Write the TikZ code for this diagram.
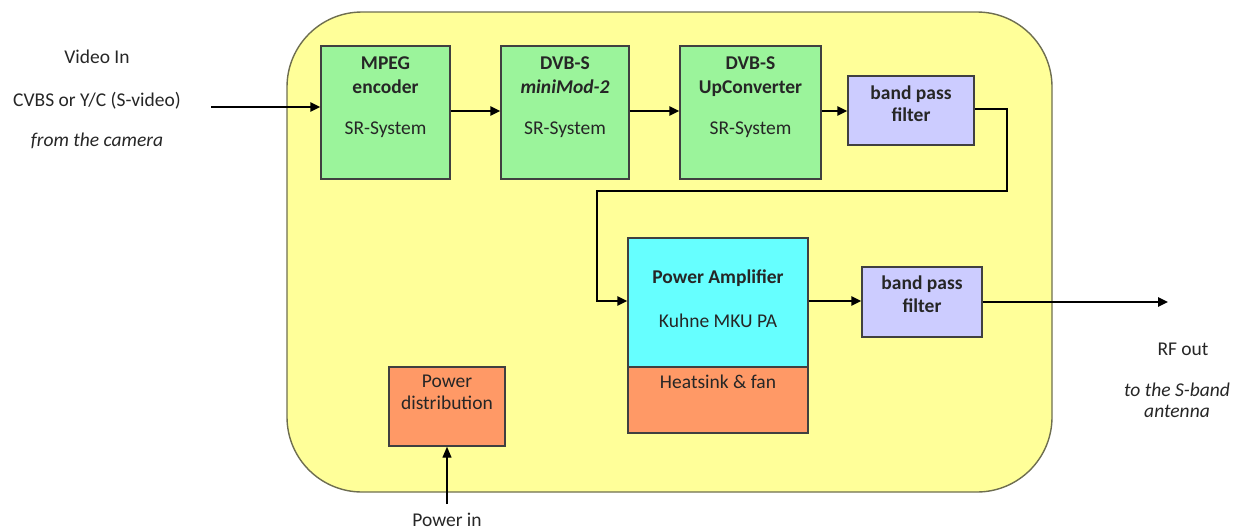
\documentclass[tikz,border=0pt]{standalone}
\usepackage{fontspec}
\setmainfont{Carlito}
\usetikzlibrary{arrows.meta}
\definecolor{panelfill}{HTML}{FFFF99}
\definecolor{panelline}{HTML}{6E6E50}
\definecolor{boxline}{HTML}{404040}
\definecolor{greenbox}{HTML}{9BF49B}
\definecolor{filterbox}{HTML}{CCCCFF}
\definecolor{ampbox}{HTML}{66FFFF}
\definecolor{heatbox}{HTML}{FF9966}
\definecolor{ink}{HTML}{262626}
\begin{document}
\begin{tikzpicture}[x=1pt,y=-1pt,
  font=\fontsize{19.5}{23}\selectfont,
  blk/.style={draw=boxline, line width=1.4pt, inner sep=0pt},
  txt/.style={text=ink, inner sep=0pt, text height=0.9em, text depth=0.26em, anchor=center},
  bold/.style={txt, font=\fontsize{19.5}{23}\selectfont\bfseries},
  link/.style={line width=2.4pt, -{Triangle[length=10pt,width=9pt]}, rounded corners=0pt},
  thin link/.style={line width=1.3pt, -{Triangle[length=11pt,width=9pt]}}]
\useasboundingbox (0,0) rectangle (1241,531);

% enclosure
\draw[fill=panelfill, draw=panelline, line width=1.4pt, rounded corners=75pt]
  (287,12) rectangle (1052,492);

% processing chain
\node[blk, fill=greenbox, minimum width=129pt, minimum height=133pt] (mpeg) at (385.5,112.5) {};
\node[blk, fill=greenbox, minimum width=128pt, minimum height=133pt] (mod) at (565,112.5) {};
\node[blk, fill=greenbox, minimum width=141pt, minimum height=133pt] (upc) at (750.5,112.5) {};
\node[blk, fill=filterbox, minimum width=126pt, minimum height=69pt] (bpfa) at (911,110.5) {};
\node[blk, fill=ampbox, minimum width=180pt, minimum height=129pt] (pa) at (718,302.5) {};
\node[blk, fill=heatbox, minimum width=180pt, minimum height=66pt] (heat) at (718,400) {};
\node[blk, fill=filterbox, minimum width=120pt, minimum height=70pt] (bpfb) at (922,302) {};
\node[blk, fill=heatbox, minimum width=116pt, minimum height=79pt] (pwr) at (447,406.5) {};

% box labels
\node[bold] (mpegA) at (385.5,66) {MPEG};
\node[bold] (mpegB) at (385.5,90) {encoder};
\node[txt]  (mpegC) at (385.5,131) {SR-System};
\node[bold] (modA) at (565,66) {DVB-S};
\node[bold] (modB) at (565,90) {\itshape miniMod-2};
\node[txt]  (modC) at (565,131) {SR-System};
\node[bold] (upcA) at (750.5,66) {DVB-S};
\node[bold] (upcB) at (750.5,90) {UpConverter};
\node[txt]  (upcC) at (750.5,131) {SR-System};
\node[bold] (bpfaA) at (911,96) {band pass};
\node[bold] (bpfaB) at (911,118) {filter};
\node[bold] (paA) at (718,280) {Power Amplifier};
\node[txt]  (paB) at (718,324) {Kuhne MKU PA};
\node[txt]  (heatA) at (718,385) {Heatsink \& fan};
\node[bold] (bpfbA) at (922,286) {band pass};
\node[bold] (bpfbB) at (922,309) {filter};
\node[txt]  (pwrA) at (447,384) {Power};
\node[txt]  (pwrB) at (447,406) {distribution};

% outside labels
\node[txt] (vinA) at (97,60) {Video In};
\node[txt] (vinB) at (97,103) {CVBS or Y/C (S-video)};
\node[txt] (vinC) at (97,143) {\itshape from the camera};
\node[txt] (rfA) at (1183,352) {RF out};
\node[txt] (rfB) at (1177,393) {\itshape to the S-band};
\node[txt] (rfC) at (1177,414) {\itshape antenna};
\node[txt] (pinA) at (447,523) {Power in};

% connector ends outside the boxes
\coordinate (vin) at (211,107);
\coordinate (rf) at (1168,302);
\coordinate (pin) at (447,504);

% signal path
\draw[link] (vin) -- (vin -| mpeg.west);
\draw[link] (mpeg.east |- 0,111) -- (mod.west |- 0,111);
\draw[link] (mod.east |- 0,111) -- (upc.west |- 0,111);
\draw[link] (upc.east |- 0,111) -- (bpfa.west |- 0,111);
\draw[link] (bpfa.east |- 0,109) -- (1007,109) -- (1007,191) -- (597,191) -- (597,301) -- (pa.west |- 0,301);
\draw[link] (pa.east |- 0,301) -- (bpfb.west |- 0,301);
\draw[link] (bpfb.east |- 0,302) -- (rf);
\draw[thin link] (pin) -- (pwr.south);
\end{tikzpicture}
\end{document}
